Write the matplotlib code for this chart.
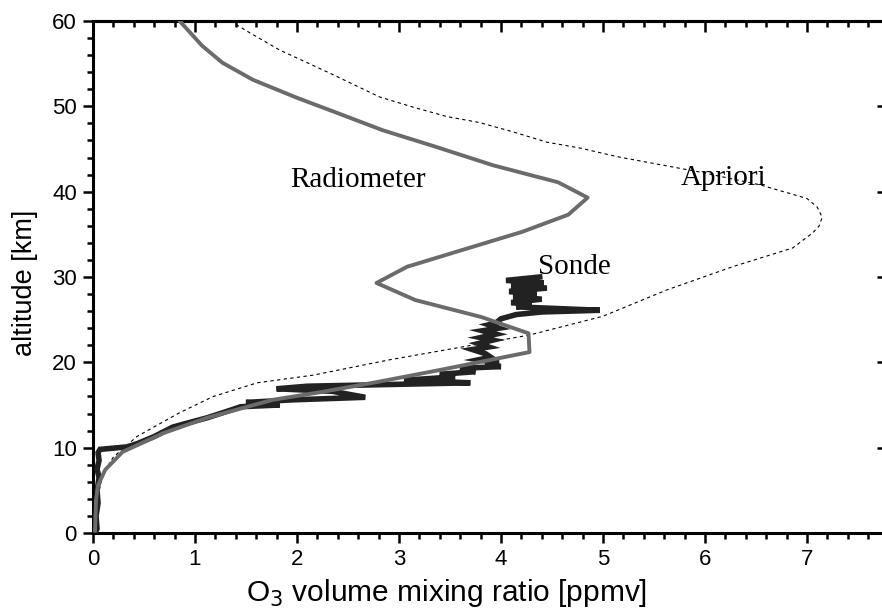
import matplotlib
matplotlib.use('Agg')
import matplotlib.pyplot as plt
from matplotlib.ticker import MultipleLocator

# radiometer retrieval (ppmv, km)
rad_x = [0.85, 1.07, 1.27, 1.57, 2.00, 2.40, 2.84, 3.35, 3.92, 4.56, 4.85, 4.66, 4.21, 3.63,
         3.08, 2.78, 3.16, 3.81, 4.27, 4.28, 3.40, 2.79, 2.23, 1.76, 1.12, 0.69, 0.29, 0.12,
         0.05, 0.03, 0.02]
rad_y = [60.0, 57.1, 55.1, 53.1, 51.0, 49.2, 47.2, 45.3, 43.1, 41.1, 39.3, 37.3, 35.3, 33.2,
         31.2, 29.3, 27.3, 25.3, 23.4, 21.2, 19.1, 17.7, 16.5, 15.6, 13.5, 11.7, 9.5, 7.4,
         5.6, 3.9, 0.3]

# a priori profile
apr_x = [1.29, 1.54, 1.83, 2.03, 2.32, 2.81, 3.14, 3.47, 3.79, 4.12, 4.45, 4.78, 5.14, 5.95,
         6.54, 7.00, 7.10, 7.15, 7.12, 7.06, 6.86, 6.27, 5.63, 5.00, 4.28, 2.91, 2.16, 1.61,
         1.18, 0.85, 0.43, 0.20, 0.10, 0.04, 0.02]
apr_y = [60.4, 58.6, 56.6, 55.5, 53.9, 51.1, 49.9, 48.8, 48.1, 47.0, 45.8, 45.1, 44.1, 42.3,
         40.8, 39.2, 38.2, 37.0, 36.0, 35.2, 33.4, 31.2, 28.5, 25.4, 23.2, 20.3, 18.5, 17.6,
         16.0, 14.1, 11.3, 8.9, 7.0, 3.9, 0.0]

# ozone sonde
son_x = [4.38, 4.05, 4.42, 4.10, 4.45, 4.08, 4.35, 4.12, 4.40, 4.10, 4.30, 4.15, 4.97, 4.40,
         4.15, 4.00, 3.95, 3.88, 3.98, 3.82, 3.95, 3.80, 3.92, 3.78, 3.88, 3.72, 3.85, 3.90,
         3.78, 3.98, 3.85, 4.00, 3.60, 3.75, 3.40, 3.55, 3.05, 3.70, 2.10, 1.80, 2.35, 2.67,
         1.95, 1.50, 1.83, 1.45, 1.30, 1.12, 0.90, 0.78, 0.60, 0.44, 0.34, 0.07, 0.05, 0.06,
         0.04, 0.06, 0.04, 0.05, 0.03, 0.04, 0.02]
son_y = [30.0, 29.6, 29.3, 29.0, 28.7, 28.3, 28.0, 27.7, 27.4, 27.0, 26.8, 26.5, 26.1, 25.9,
         25.6, 25.1, 24.6, 24.4, 24.0, 23.7, 23.3, 22.9, 22.6, 22.2, 21.8, 21.5, 21.0, 20.6,
         20.3, 19.9, 19.7, 19.5, 19.3, 18.9, 18.6, 18.3, 17.9, 17.6, 17.2, 16.9, 16.6, 15.9,
         15.6, 15.3, 15.0, 14.8, 14.2, 13.5, 12.8, 12.4, 11.3, 10.5, 10.1, 9.8, 9.4, 8.5,
         7.5, 6.5, 5.0, 3.5, 2.0, 0.5, 0.0]

fig = plt.figure(figsize=(8.82, 6.12), dpi=100)
ax = fig.add_axes([0.1054, 0.1291, 0.8968, 0.8366])

ax.plot(apr_x, apr_y, color='black', lw=0.8, dashes=(3, 3), zorder=2)
ax.plot(son_x, son_y, color='#222222', lw=4, solid_joinstyle='miter', zorder=3)
ax.plot(rad_x, rad_y, color='#6b6b6b', lw=2.8, zorder=4)

ax.text(2.6, 41.4, 'Radiometer', fontsize=21, family='Liberation Serif', ha='center', va='center')
ax.text(6.18, 41.6, 'Apriori', fontsize=21, family='Liberation Serif', ha='center', va='center')
ax.text(4.72, 31.2, 'Sonde', fontsize=21, family='Liberation Serif', ha='center', va='center')

ax.set_xlim(0, 7.755)
ax.set_ylim(0, 60)
ax.xaxis.set_major_locator(MultipleLocator(1))
ax.xaxis.set_minor_locator(MultipleLocator(0.2))
ax.yaxis.set_major_locator(MultipleLocator(10))
ax.yaxis.set_minor_locator(MultipleLocator(2))

for s in ['left', 'bottom', 'top']:
    ax.spines[s].set_linewidth(2.2)
ax.spines['right'].set_visible(False)

ax.tick_params(which='major', direction='out', length=7.5, width=1.8, labelsize=16,
               top=False, right=False, pad=4)
ax.tick_params(which='minor', direction='out', length=4, width=1.8, top=False, right=False)
for lab in ax.get_xticklabels() + ax.get_yticklabels():
    lab.set_family('Liberation Sans')

# inward ticks on the top and right
top = ax.secondary_xaxis('top')
top.xaxis.set_major_locator(MultipleLocator(1))
top.xaxis.set_minor_locator(MultipleLocator(0.2))
top.tick_params(which='major', direction='in', length=8, width=1.8, labeltop=False)
top.tick_params(which='minor', direction='in', length=4.5, width=1.8)
top.spines['top'].set_linewidth(2.2)

right = ax.secondary_yaxis('right')
right.yaxis.set_major_locator(MultipleLocator(10))
right.yaxis.set_minor_locator(MultipleLocator(100))
right.tick_params(which='major', direction='in', length=5, width=1.8, labelright=False)
right.spines['right'].set_visible(False)

ax.set_xlabel('O$_3$ volume mixing ratio [ppmv]', fontsize=21.5, family='Liberation Sans')
ax.xaxis.set_label_coords(0.4475, -0.085)
ax.set_ylabel('altitude [km]', fontsize=19.5, family='Liberation Sans')
ax.yaxis.set_label_coords(-0.07, 0.488)

plt.savefig('out.png', dpi=100)
